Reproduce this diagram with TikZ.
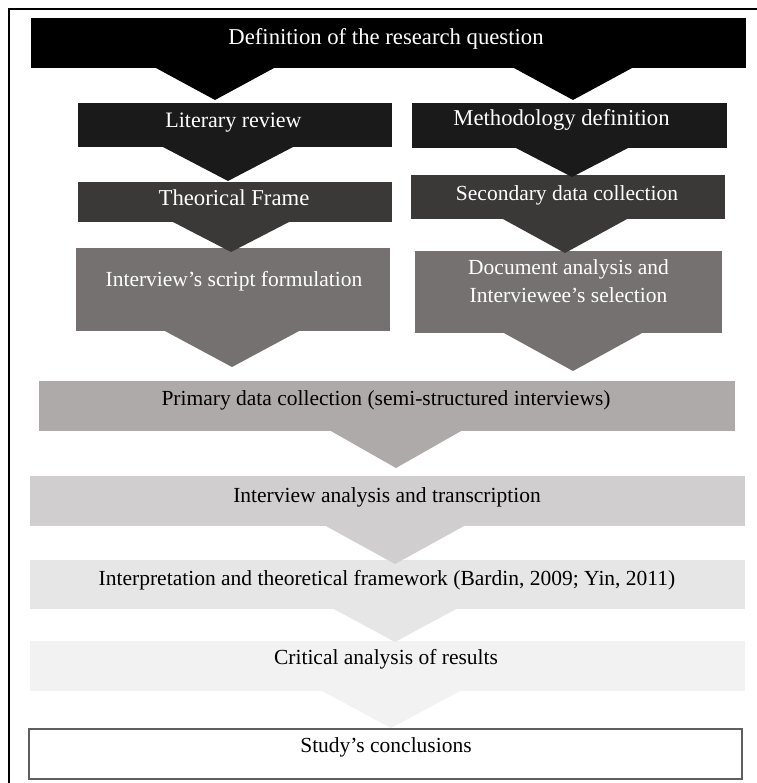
\documentclass[tikz,border=0pt]{standalone}
\usepackage{fontspec}
\setmainfont{Liberation Serif}
\usetikzlibrary{calc}
\definecolor{cA}{HTML}{000000}
\definecolor{cB}{HTML}{1A1A1A}
\definecolor{cC}{HTML}{3B3838}
\definecolor{cD}{HTML}{767171}
\definecolor{cE}{HTML}{AEAAAA}
\definecolor{cF}{HTML}{D0CECE}
\definecolor{cG}{HTML}{E7E6E6}
\definecolor{cH}{HTML}{F2F2F2}
\definecolor{cI}{HTML}{5E5E5E}
\newcommand{\lifttxt}[3]{\raisebox{#2}[0.7em][0.2em]{\hspace*{#1}#3}}
\newcommand{\chevdown}[6]{%
  \coordinate (#2) at (#3,#4);
  \fill[#6] ($(#1.south -| #2)+(-#5,-0.5)$) -- (#2) -- ($(#1.south -| #2)+(#5,-0.5)$) -- cycle;}
\begin{document}
\begin{tikzpicture}[x=1pt,y=-1pt,
  box/.style={rectangle, inner sep=0pt, outer sep=0pt, draw=none,
    font=\fontsize{21.5}{28}\selectfont},
  bigtxt/.style={font=\fontsize{22.7}{28}\selectfont},
  wbox/.style={box, text=white},
  kbox/.style={box, text=black}]
\useasboundingbox (0,0) rectangle (756,783);
\fill[white] (0,0) rectangle (756,783);
\draw[line width=1.5pt] (9,800) -- (9,9) -- (800,9);
% boxes
\node[wbox, bigtxt, fill=cA, minimum width=715pt, minimum height=50pt] (top) at (388.5,43) {\lifttxt{-5pt}{4.5pt}{Definition of the research question}};
\node[wbox, font=\fontsize{22}{28}\selectfont, fill=cB, minimum width=314pt, minimum height=44pt] (lit) at (235,125) {\lifttxt{-3pt}{3pt}{Literary review}};
\node[wbox, bigtxt, fill=cB, minimum width=315pt, minimum height=45pt] (meth) at (569.5,125.5) {\lifttxt{-16pt}{5.5pt}{Methodology definition}};
\node[wbox, bigtxt, fill=cC, minimum width=314pt, minimum height=40pt] (theo) at (235,202) {\lifttxt{-2pt}{2pt}{Theorical Frame}};
\node[wbox, fill=cC, minimum width=314pt, minimum height=44pt] (sec) at (568,197) {\lifttxt{-2pt}{2pt}{Secondary data collection}};
\node[wbox, fill=cD, minimum width=314pt, minimum height=83pt] (intv) at (233,289.5) {\lifttxt{2pt}{8.5pt}{Interview’s script formulation}};
\node[wbox, fill=cD, minimum width=307pt, minimum height=82pt] (doc) at (568.5,292) {\raisebox{9pt}[15pt][32pt]{\begin{tabular}[t]{@{}c@{}}Document analysis and\\Interviewee’s selection\end{tabular}}};
\node[kbox, fill=cE, minimum width=696pt, minimum height=50pt] (prim) at (387,406) {\lifttxt{-2pt}{6pt}{Primary data collection (semi-structured interviews)}};
\node[kbox, fill=cF, minimum width=715pt, minimum height=50pt] (anal) at (387.5,501) {\lifttxt{-1pt}{4pt}{Interview analysis and transcription}};
\node[kbox, fill=cG, minimum width=715pt, minimum height=49pt] (interp) at (387.5,584.5) {\lifttxt{-1pt}{4.5pt}{Interpretation and theoretical framework (Bardin, 2009; Yin, 2011)}};
\node[kbox, fill=cH, minimum width=715pt, minimum height=50pt] (crit) at (387.5,666) {\lifttxt{-3pt}{7pt}{Critical analysis of results}};
\node[kbox, fill=white, draw=cI, line width=1.5pt, minimum width=713pt, minimum height=50pt] (concl) at (385.5,754) {\lifttxt{1pt}{7pt}{Study’s conclusions}};
% chevrons
\chevdown{top}{tA}{215}{100}{60}{cA}
\chevdown{top}{tB}{573}{100}{60}{cA}
\chevdown{lit}{tL}{228}{181}{66}{cB}
\chevdown{meth}{tM}{572}{177}{57}{cB}
\chevdown{theo}{tT}{231}{252}{59}{cC}
\chevdown{sec}{tS}{565}{253}{63}{cC}
\chevdown{intv}{tI}{232}{367}{68}{cD}
\chevdown{doc}{tD}{573}{371}{70}{cD}
\chevdown{prim}{tP}{396}{468}{66}{cE}
\chevdown{anal}{tN}{395}{564}{70}{cF}
\chevdown{interp}{tR}{395}{642}{62}{cG}
\chevdown{crit}{tC}{391}{728}{70}{cH}
\end{tikzpicture}
\end{document}
